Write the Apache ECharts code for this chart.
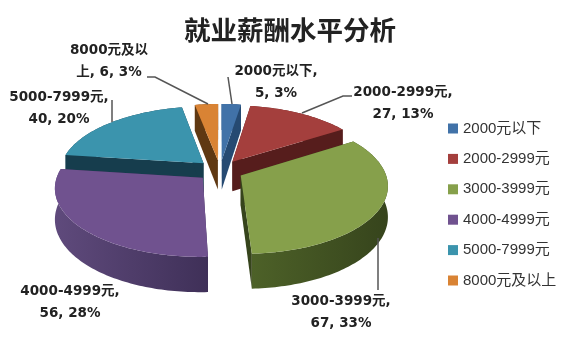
<!DOCTYPE html>
<html>
<head>
<meta charset="utf-8">
<title>就业薪酬水平分析</title>
<script src="https://cdn.jsdelivr.net/npm/echarts@6/dist/echarts.min.js"></script>
<style>
html, body { margin: 0; padding: 0; background: #fff; }
#chart { width: 580px; height: 358px; }
</style>
</head>
<body>
<div id="chart"></div>
<script>
// 数据
var categories = ['2000元以下', '2000-2999元', '3000-3999元', '4000-4999元', '5000-7999元', '8000元及以上'];
var values = [5, 27, 67, 56, 40, 6];
var percents = [3, 13, 33, 28, 20, 3];
var labelLines = [
  ['2000元以下,', '5, 3%'],
  ['2000-2999元,', '27, 13%'],
  ['3000-3999元,', '67, 33%'],
  ['4000-4999元,', '56, 28%'],
  ['5000-7999元,', '40, 20%'],
  ['8000元及以', '上, 6, 3%']
];

// 样式
var topColors = ['#4172a8', '#a43f3d', '#86a04b', '#70528f', '#3b94ad', '#d98334'];
var wallColors = [
  ['#2f5c8c', '#264a72'],
  ['#6b2524', '#561d1c'],
  ['#4d6128', '#36441c'],
  ['#5f4a7c', '#3f3058'],
  ['#1d4b5d', '#163d4d'],
  ['#7a4718', '#5f3812']
];
var labelPos = [[276, 82], [403, 103], [341, 312], [70, 302], [59, 108], [109, 61]];
var leaders = [
  [[228, 77], [232, 104]],
  [[352, 96], [343, 96], [302, 113]],
  [[378, 238], [378, 290]],
  null,
  [[112, 100], [112, 122]],
  [[147, 77], [155, 77], [208, 104]]
];

// 透视参数
var cx = 220, cy = 170.5, radiusX = 144, radiusY = 66.3, persp = 0.135, explode = 0.16, depth = 30;

function project(wx, wy) {
  var s = 1 / (1 + persp * wy);
  return { x: cx + radiusX * wx * s, y: cy - radiusY * wy * s, h: depth * s };
}
function topPt(p) { return [p.x, p.y]; }
function botPt(p) { return [p.x, p.y + p.h]; }

var total = values.reduce(function (a, b) { return a + b; }, 0);
var acc = 0;
var ranges = values.map(function (v) {
  var r = [acc / total * Math.PI * 2, (acc + v) / total * Math.PI * 2];
  acc += v;
  return r;
});
// 由后往前画
var order = ranges.map(function (r, i) {
  return { i: i, d: Math.cos((r[0] + r[1]) / 2) };
}).sort(function (a, b) { return b.d - a.d; });
var zOf = {};
order.forEach(function (o, k) { zOf[o.i] = k + 2; });

function renderSlice(params, api) {
  var i = params.seriesIndex;
  var a0 = api.value(0), a1 = api.value(1);
  var mid = (a0 + a1) / 2;
  var ox = Math.sin(mid) * explode, oy = Math.cos(mid) * explode;
  var tip = project(ox, oy);
  var rim = [];
  var n = Math.max(4, Math.ceil((a1 - a0) / 0.02));
  for (var k = 0; k <= n; k++) {
    var t = a0 + (a1 - a0) * k / n;
    rim.push(project(ox + Math.sin(t), oy + Math.cos(t)));
  }
  var wallFill = {
    type: 'linear', x: 0, y: 0, x2: 1, y2: 0,
    colorStops: [{ offset: 0, color: wallColors[i][0] }, { offset: 1, color: wallColors[i][1] }]
  };
  var outer = rim.map(topPt).concat(rim.slice().reverse().map(botPt));
  var first = rim[0], last = rim[rim.length - 1];
  var children = [
    { type: 'polygon', shape: { points: outer }, style: { fill: wallFill } },
    { type: 'polygon', shape: { points: [topPt(tip), topPt(first), botPt(first), botPt(tip)] }, style: { fill: wallColors[i][1] } },
    { type: 'polygon', shape: { points: [topPt(tip), topPt(last), botPt(last), botPt(tip)] }, style: { fill: wallColors[i][1] } },
    { type: 'polygon', shape: { points: [topPt(tip)].concat(rim.map(topPt)) }, style: { fill: topColors[i] } }
  ];
  if (leaders[i]) {
    children.push({
      type: 'polyline',
      shape: { points: leaders[i] },
      style: { fill: 'none', stroke: '#555', lineWidth: 1.5 }
    });
  }
  children.push({
    type: 'text',
    style: {
      text: labelLines[i].join('\n'),
      x: labelPos[i][0],
      y: labelPos[i][1],
      align: 'center',
      verticalAlign: 'middle',
      font: 'bold 13.5px "DejaVu Sans", "Noto Sans CJK SC", sans-serif',
      lineHeight: 22,
      fill: '#222'
    }
  });
  return { type: 'group', children: children };
}

var chart = echarts.init(document.getElementById('chart'), null, { renderer: 'canvas' });
chart.setOption({
  animation: false,
  backgroundColor: '#fff',
  title: {
    text: '就业薪酬水平分析',
    left: 285,
    top: 12,
    textAlign: 'center',
    textStyle: { fontFamily: '"Noto Sans CJK SC"', fontSize: 26.5, fontWeight: 'bold', color: '#222' }
  },
  legend: {
    orient: 'vertical',
    left: 448,
    top: 121,
    padding: 0,
    itemWidth: 10,
    itemHeight: 10,
    itemGap: 15.4,
    icon: 'rect',
    data: categories,
    selectedMode: false,
    textStyle: { fontFamily: '"Liberation Sans", "Noto Sans CJK SC"', fontSize: 15, color: '#333' }
  },
  series: categories.map(function (name, i) {
    return {
      name: name,
      type: 'custom',
      coordinateSystem: 'none',
      z: zOf[i],
      silent: true,
      itemStyle: { color: topColors[i] },
      renderItem: renderSlice,
      data: [[ranges[i][0], ranges[i][1], values[i], percents[i]]]
    };
  })
});
</script>
</body>
</html>
